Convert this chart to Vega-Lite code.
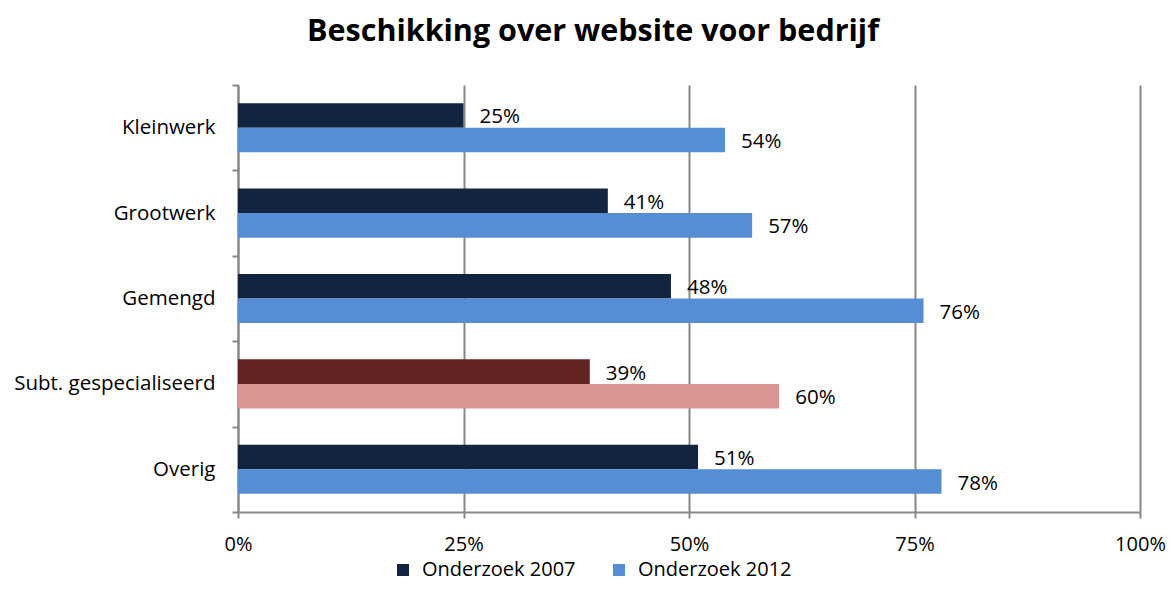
{
  "$schema": "https://vega.github.io/schema/vega-lite/v6.json",
  "autosize": "none",
  "width": 902,
  "height": 427,
  "padding": {"left": 238, "top": 85, "right": 34, "bottom": 94},
  "background": "white",
  "title": {
    "text": "Beschikking over website voor bedrijf",
    "font": "Open Sans",
    "fontSize": 30.5,
    "fontWeight": "bold",
    "color": "#000000",
    "anchor": "middle",
    "frame": "group",
    "dx": -96,
    "offset": 28
  },
  "data": {
    "values": [
      {"categorie": "Kleinwerk", "serie": "Onderzoek 2007", "groep": "Onderzoek 2007", "waarde": 0.25},
      {"categorie": "Kleinwerk", "serie": "Onderzoek 2012", "groep": "Onderzoek 2012", "waarde": 0.54},
      {"categorie": "Grootwerk", "serie": "Onderzoek 2007", "groep": "Onderzoek 2007", "waarde": 0.41},
      {"categorie": "Grootwerk", "serie": "Onderzoek 2012", "groep": "Onderzoek 2012", "waarde": 0.57},
      {"categorie": "Gemengd", "serie": "Onderzoek 2007", "groep": "Onderzoek 2007", "waarde": 0.48},
      {"categorie": "Gemengd", "serie": "Onderzoek 2012", "groep": "Onderzoek 2012", "waarde": 0.76},
      {"categorie": "Subt. gespecialiseerd", "serie": "Onderzoek 2007", "groep": "Subt. 2007", "waarde": 0.39},
      {"categorie": "Subt. gespecialiseerd", "serie": "Onderzoek 2012", "groep": "Subt. 2012", "waarde": 0.60},
      {"categorie": "Overig", "serie": "Onderzoek 2007", "groep": "Onderzoek 2007", "waarde": 0.51},
      {"categorie": "Overig", "serie": "Onderzoek 2012", "groep": "Onderzoek 2012", "waarde": 0.78}
    ]
  },
  "encoding": {
    "y": {
      "field": "categorie",
      "type": "nominal",
      "sort": ["Kleinwerk", "Grootwerk", "Gemengd", "Subt. gespecialiseerd", "Overig"],
      "scale": {"paddingInner": 0, "paddingOuter": 0},
      "axis": {
        "title": null,
        "tickBand": "extent",
        "domainColor": "#888888",
        "domainWidth": 2,
        "tickColor": "#888888",
        "tickWidth": 2,
        "tickSize": 6,
        "labelPadding": 17,
        "labelLimit": 400,
        "labelFont": "Open Sans",
        "labelFontSize": 20.5,
        "labelColor": "#000000",
        "grid": false
      }
    },
    "yOffset": {
      "field": "serie",
      "type": "nominal",
      "scale": {"paddingInner": 0, "paddingOuter": 0.74}
    },
    "x": {
      "field": "waarde",
      "type": "quantitative",
      "scale": {"domain": [0, 1], "nice": false},
      "axis": {
        "title": null,
        "values": [0, 0.25, 0.5, 0.75, 1],
        "format": ".0%",
        "labelFlush": false,
        "grid": true,
        "gridColor": "#888888",
        "gridWidth": 2,
        "domainColor": "#888888",
        "domainWidth": 2,
        "tickColor": "#888888",
        "tickWidth": 2,
        "tickSize": 6,
        "labelPadding": 16,
        "labelFont": "Open Sans",
        "labelFontSize": 20,
        "labelColor": "#000000"
      }
    }
  },
  "layer": [
    {
      "mark": {"type": "bar"},
      "encoding": {
        "color": {
          "field": "groep",
          "type": "nominal",
          "scale": {
            "domain": ["Onderzoek 2007", "Onderzoek 2012", "Subt. 2007", "Subt. 2012"],
            "range": ["#12243F", "#558ED5", "#632523", "#D99694"]
          },
          "legend": {
            "values": ["Onderzoek 2007", "Onderzoek 2012"],
            "title": null,
            "orient": "none",
            "direction": "horizontal",
            "legendX": 155,
            "legendY": 475,
            "symbolType": "square",
            "symbolSize": 144,
            "symbolStrokeWidth": 0,
            "labelFont": "Open Sans",
            "labelFontSize": 20,
            "labelColor": "#000000",
            "columnPadding": 33,
            "labelOffset": 9
          }
        }
      }
    },
    {
      "mark": {"type": "text", "align": "left", "baseline": "middle", "dx": 16, "dy": 2, "font": "Open Sans", "fontSize": 20.5, "color": "#000000"},
      "encoding": {
        "text": {"field": "waarde", "type": "quantitative", "format": ".0%"}
      }
    }
  ],
  "config": {
    "view": {"stroke": null}
  }
}
